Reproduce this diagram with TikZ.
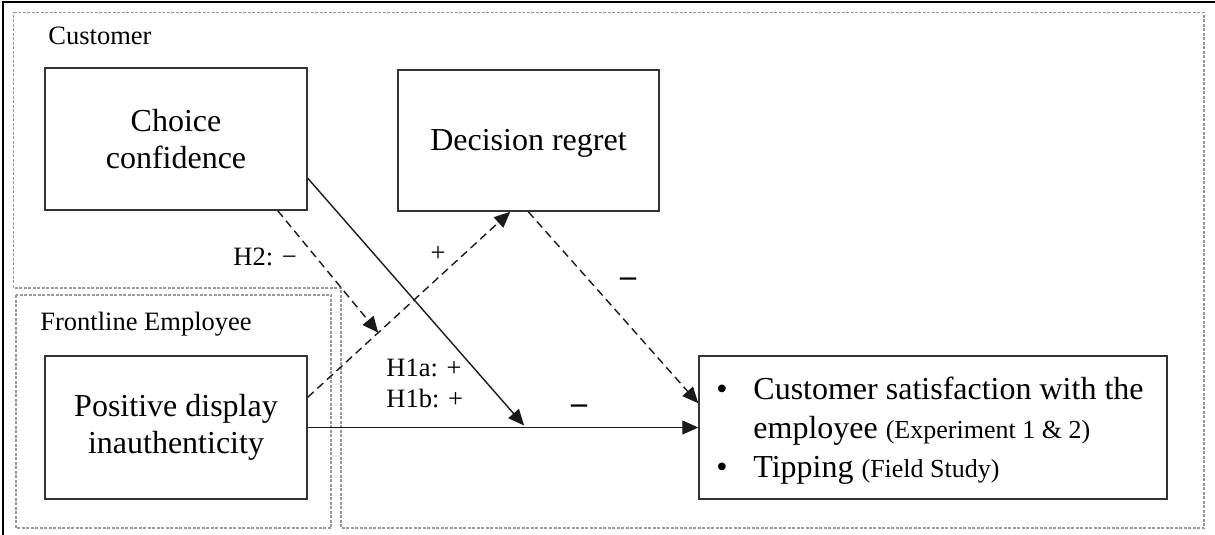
\documentclass[tikz,border=0pt]{standalone}
\usepackage{fontspec}
\setmainfont{Liberation Serif}
\usetikzlibrary{arrows.meta,calc}
\begin{document}
\begin{tikzpicture}[x=0.5pt,y=-0.5pt,
  box/.style={draw=black!80, line width=0.75pt, inner sep=0pt, align=center,
    font=\fontsize{16}{18.5}\selectfont},
  grp/.style={draw=gray!80, line width=0.6pt, dash pattern=on 1.5pt off 0.75pt},
  lab/.style={inner sep=0pt, anchor=base west, font=\fontsize{13.25}{16}\selectfont},
  txt/.style={inner sep=0pt, anchor=base west, font=\fontsize{16}{19.5}\selectfont},
  sign/.style={inner sep=0pt, font=\fontsize{16}{18}\selectfont\bfseries},
  conn/.style={draw=black!90, line width=0.7pt, -{Triangle[length=8pt,width=7pt]}},
  dconn/.style={conn, dash pattern=on 4pt off 2.5pt}]
\useasboundingbox (0,0) rectangle (1215,535);

% outer frame (top and left edges)
\draw[line width=1pt] (2.5,535) -- (2.5,2.5) -- (1215,2.5);

% actor regions
\draw[grp] (13.5,12.5) -- (1204,12.5) -- (1204,528) -- (341,528) -- (341,288) -- (13.5,288) -- cycle;
\draw[grp] (16,295) rectangle (331,528);
\node[lab] (custlab) at (48,45) {Customer};
\node[lab] (emplab) at (40,330) {Frontline Employee};

% constructs
\node[box, minimum width=131pt, minimum height=71pt] (cc) at (176,139) {Choice\\confidence};
\node[box, minimum width=130.5pt, minimum height=70.5pt, text depth=0.5pt] (dr) at (528.5,140.5) {Decision regret};
\node[box, minimum width=131pt, minimum height=71.5pt] (pdi) at (176,427.5) {Positive display\\inauthenticity};
\node[box, minimum width=234pt, minimum height=71.5pt] (out) at (933,427.5) {};

% outcome list
\node[txt, anchor=base] (b1) at (722,399) {\textbullet};
\node[txt] (o1) at (753,399) {Customer satisfaction with the};
\node[txt] (o2) at (753,438) {employee {\fontsize{13}{15}\selectfont(Experiment 1 \& 2)}};
\node[txt, anchor=base] (b2) at (722,477) {\textbullet};
\node[txt] (o3) at (753,477) {Tipping {\fontsize{13}{15}\selectfont(Field Study)}};

% anchor points of the paths
\coordinate (pdiA) at ($(pdi.north east)+(0,42)$);
\coordinate (drIn) at ($(dr.south west)+(113,0)$);
\coordinate (h2tip) at ($(pdiA)!0.348!(drIn)$);
\coordinate (h1tip) at ($(pdi.east)!0.554!(out.west)$);

% paths
\draw[dconn] ($(cc.south east)+(-30,0)$) -- (h2tip);
\draw[dconn] (pdiA) -- (drIn);
\draw[conn] ($(cc.north east)+(0,111)$) -- ($(h1tip)+(0,-2)$);
\draw[conn] (pdi.east) -- (out.west);
\draw[dconn] ($(dr.south west)+(131,0)$) -- ($(out.north west)+(0,48)$);

% path labels
\node[lab] (h2) at (233,265) {H2: −};
\node[lab] (h1a) at (386,376) {H1a: +};
\node[lab] (h1b) at (386,407) {H1b: +};
\node[inner sep=0pt, font=\fontsize{13.25}{16}\selectfont] (plus) at (438,254) {+};
\node[sign] (m1) at (628,282) {–};
\node[sign] (m2) at (579,409) {–};
\end{tikzpicture}
\end{document}
